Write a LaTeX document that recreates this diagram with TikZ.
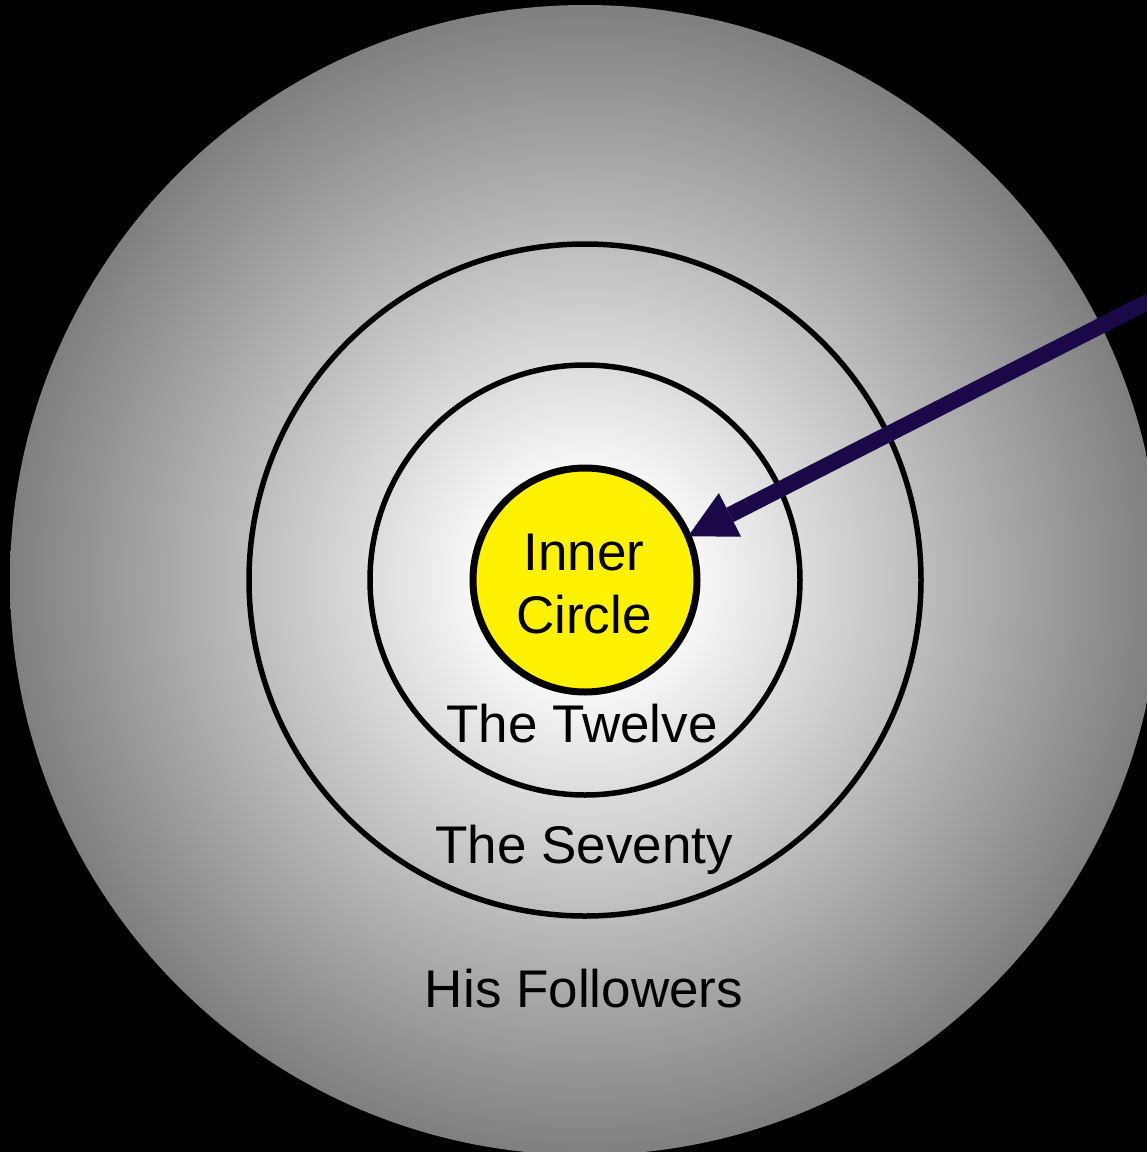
\documentclass[tikz,border=0pt]{standalone}
\usepackage{fontspec}
\setmainfont{Liberation Sans}
\usetikzlibrary{arrows.meta}
\definecolor{arrowblue}{RGB}{26,8,72}
% white core, then a steady fade out to gray at the rim
\pgfdeclareradialshading{discglow}{\pgfpointorigin}{color(0bp)=(white); color(3.5bp)=(white);
  color(25bp)=(gray); color(50bp)=(gray)}

\begin{document}
\begin{tikzpicture}[x=1pt, y=-1pt,
  ring/.style={circle, draw=black, line width=5.5pt, inner sep=0pt, outer sep=0pt},
  ringtext/.style={anchor=base, font=\fontsize{53}{63}\selectfont}]
  % black page behind everything
  \fill[black] (0,0) rectangle (1147,1152);
  \useasboundingbox (0,0) rectangle (1147,1152);
  \coordinate (c) at (585,580);

  % outer disc
  \shade[shading=discglow] (c) circle[radius=575];

  % the rings
  \node[ring, minimum size=672pt] (seventy) at (c) {};
  \node[ring, minimum size=430pt] (twelve) at (c) {};
  \node[ring, fill=yellow, line width=7pt, minimum size=224pt] (inner) at (c) {};
  \node[align=center, font=\fontsize{53}{63}\selectfont] (innertext) at (584,584) {Inner\\Circle};

  % ring names
  \node[ringtext] (twelvetext) at (582,742) {The Twelve};
  \node[ringtext] (seventytext) at (584,863) {The Seventy};
  \node[ringtext] (followers) at (584,1007) {His Followers};

  % pointer into the inner circle
  \coordinate (src) at (1165,293);
  \draw[arrowblue, line width=16pt,
        -{Triangle[length=47pt, width=49pt, line width=0pt]}] (src) -- (inner.23);
\end{tikzpicture}
\end{document}
